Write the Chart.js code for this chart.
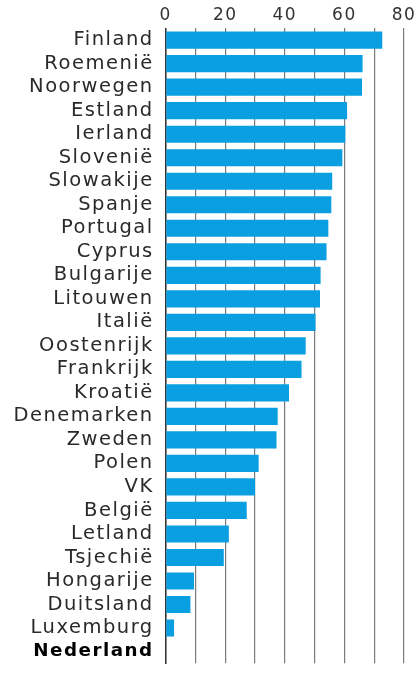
<!DOCTYPE html>
<html>
<head>
<meta charset="utf-8">
<script src="https://cdn.jsdelivr.net/npm/chart.js@4"></script>
<style>
  html,body{margin:0;padding:0;background:#fff;}
  #wrap{width:418px;height:679px;}
</style>
</head>
<body>
<div id="wrap"><canvas id="c" width="418" height="679"></canvas></div>
<script>
const categories = ["Finland","Roemenië","Noorwegen","Estland","Ierland","Slovenië","Slowakije","Spanje","Portugal","Cyprus","Bulgarije","Litouwen","Italië","Oostenrijk","Frankrijk","Kroatië","Denemarken","Zweden","Polen","VK","België","Letland","Tsjechië","Hongarije","Duitsland","Luxemburg","Nederland"];
const values = [72.7,66.1,65.9,60.9,60.3,59.3,55.9,55.6,54.6,54.0,52.0,51.8,50.3,47.0,45.6,41.4,37.6,37.2,31.2,30.0,27.2,21.2,19.5,9.5,8.3,2.8,0];
const xTickLabels = [0,20,40,60,80];
const highlight = "Nederland";

const spacingPlugin = {
  id:'spacing',
  beforeDraw(chart){ chart.ctx.letterSpacing = '1.5px'; }
};

new Chart(document.getElementById('c'), {
  type:'bar',
  data:{
    labels:categories,
    datasets:[{
      data:values,
      backgroundColor:'#0a9fe0',
      borderWidth:0,
      barPercentage:0.73,
      categoryPercentage:1.0
    }]
  },
  plugins:[spacingPlugin],
  options:{
    indexAxis:'y',
    responsive:false,
    animation:false,
    layout:{padding:{left:0,right:14,top:0,bottom:0}},
    plugins:{legend:{display:false},tooltip:{enabled:false}},
    scales:{
      x:{
        position:'top',
        min:0,max:80,
        ticks:{
          stepSize:10,
          autoSkip:false,
          maxRotation:0,
          padding:3,
          color:'#333',
          font:{family:'DejaVu Sans',size:17},
          callback:v=> xTickLabels.includes(v) ? String(v) : ''
        },
        grid:{color:'#7a7a7a',lineWidth:1.2,drawTicks:false},
        border:{display:false},
        afterFit(s){ s.height = 28.4; }
      },
      y:{
        ticks:{
          autoSkip:false,
          padding:4,
          color:ctx=> categories[ctx.index]===highlight ? '#000' : '#2a2a2a',
          font:ctx=> categories[ctx.index]===highlight
            ? {family:'DejaVu Sans',size:18.3,weight:'bold'}
            : {family:'DejaVu Sans',size:19.5,weight:'normal'}
        },
        grid:{display:false},
        border:{display:true,color:'#333',width:1.5},
        afterFit(s){ s.width = 165.7; }
      }
    }
  }
});
</script>
</body>
</html>
